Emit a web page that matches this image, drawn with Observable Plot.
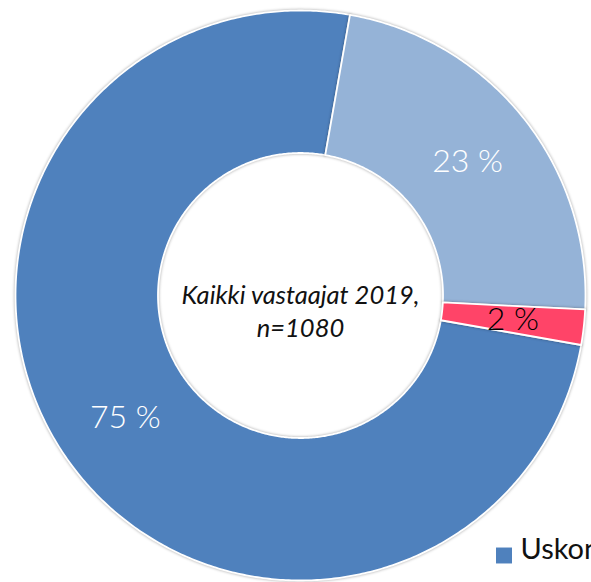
<!DOCTYPE html>
<html><head><meta charset="utf-8">
<script src="https://cdn.jsdelivr.net/npm/d3@7"></script>
<script src="https://cdn.jsdelivr.net/npm/@observablehq/plot@0.6"></script>
<style>
html,body{margin:0;padding:0;background:#fff;overflow:hidden;}
#chart{width:591px;height:582px;overflow:hidden;position:relative;}
#chart svg{overflow:hidden;}
g[aria-label="line"] path{filter:drop-shadow(0 0 1.5px rgba(0,0,0,0.35));}
</style></head><body><div id="chart"></div>
<script>
// ---- data ----
const categories = ["Uskon", "(2)", "(3)"];
const values = [75, 23, 2];
const valueLabels = ["75 %", "23 %", "2 %"];
const colors = ["#4F81BD", "#95B3D7", "#FF4468"];
const labelColors = ["#ffffff", "#ffffff", "#000000"];
const centerText = ["Kaikki vastaajat 2019,\nn=1080"];
const legendItems = ["Uskon"];
const firstSliceAngle = 100; // degrees, clockwise from top
const holeSize = 0.5;

// ---- build slices ----
const pie = d3.pie().sort(null).value(d => d.value)
  .startAngle(firstSliceAngle * Math.PI / 180)
  .endAngle((firstSliceAngle + 360) * Math.PI / 180);
const table = categories.map((c, i) => ({category: c, value: values[i], label: valueLabels[i], color: colors[i], labelColor: labelColors[i]}));
const arcs = pie(table);
const poly = [];
for (const a of arcs) {
  const n = Math.max(4, Math.ceil((a.endAngle - a.startAngle) / 0.01));
  for (let k = 0; k <= n; k++) {
    const t = a.startAngle + (a.endAngle - a.startAngle) * k / n;
    poly.push({category: a.data.category, x: Math.sin(t), y: Math.cos(t)});
  }
  for (let k = n; k >= 0; k--) {
    const t = a.startAngle + (a.endAngle - a.startAngle) * k / n;
    poly.push({category: a.data.category, x: holeSize * Math.sin(t), y: holeSize * Math.cos(t)});
  }
}
const labelR = (1 + holeSize) / 2;
const labelData = arcs.map(a => {
  const m = (a.startAngle + a.endAngle) / 2;
  return {...a.data, x: labelR * Math.sin(m), y: labelR * Math.cos(m)};
});

const chart = Plot.plot({
  width: 591,
  height: 582,
  margin: 0,
  x: {domain: [-1, 1], range: [15, 585], axis: null},
  y: {domain: [-1, 1], range: [580, 10], axis: null},
  color: {domain: categories, range: colors},
  style: {fontFamily: "Lato, 'Open Sans', sans-serif", background: "white"},
  marks: [
    Plot.line(poly, {x: "x", y: "y", z: "category", fill: "category", stroke: "white", strokeWidth: 1.8, curve: "linear-closed"}),
    Plot.text(labelData, {x: "x", y: "y", text: "label", fill: "labelColor", fontSize: 32, fontWeight: 300}),
    Plot.text(centerText, {x: () => 0, y: () => 0, text: d => d, dy: 14, fontSize: 25.5, fontStyle: "italic", lineHeight: 1.3, fill: "#111"}),
    Plot.dot(legendItems, {frameAnchor: "bottom-left", dx: 503.5, dy: -27, symbol: "square", r: 9, fill: (d, i) => colors[i], stroke: null}),
    Plot.text(legendItems, {frameAnchor: "bottom-left", dx: 520, dy: -24, text: d => d, textAnchor: "start", fontSize: 29, fill: "#111"})
  ]
});
document.getElementById("chart").appendChild(chart);
</script></body></html>
